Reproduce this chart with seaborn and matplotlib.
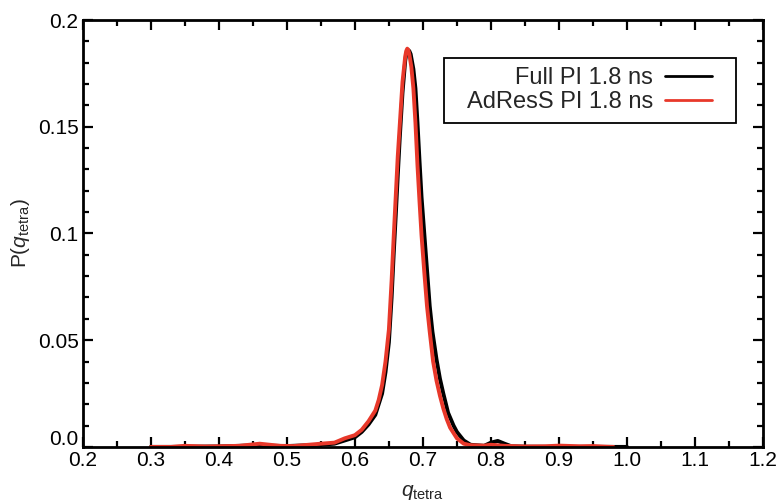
import numpy as np
import pandas as pd
import matplotlib
matplotlib.use("Agg")
import matplotlib.pyplot as plt
import matplotlib.transforms as mtransforms
from matplotlib.ticker import MultipleLocator, FixedLocator
import seaborn as sns

# ---- data ----
full_x = [0.30, 0.33, 0.36, 0.40, 0.45, 0.50, 0.55, 0.57, 0.585, 0.60, 0.61, 0.62,
          0.63, 0.64, 0.645, 0.65, 0.654, 0.657, 0.660, 0.663, 0.666, 0.670, 0.674,
          0.676, 0.678, 0.680, 0.682, 0.686, 0.689, 0.692, 0.695, 0.698, 0.702, 0.706,
          0.710, 0.714, 0.72, 0.725, 0.73, 0.737, 0.745, 0.75, 0.76, 0.77, 0.79, 0.80,
          0.81, 0.82, 0.83, 0.85, 0.90, 1.0]
full_y = [0.0, 0.0, 0.0001, 0.0002, 0.0007, 0.0004, 0.001, 0.0015, 0.003, 0.0045, 0.007, 0.0105,
          0.015, 0.025, 0.035, 0.049, 0.070, 0.090, 0.108, 0.127, 0.145, 0.166, 0.181,
          0.1848, 0.186, 0.1855, 0.184, 0.177, 0.168, 0.152, 0.134, 0.117, 0.100, 0.083,
          0.066, 0.054, 0.041, 0.032, 0.025, 0.016, 0.010, 0.007, 0.003, 0.001, 0.0005, 0.002,
          0.0028, 0.0015, 0.0003, 0.0001, 0.0, 0.0]

adress_x = [0.30, 0.33, 0.35, 0.38, 0.40, 0.43, 0.46, 0.49, 0.51, 0.55, 0.57, 0.585,
            0.60, 0.61, 0.62, 0.63, 0.635, 0.64, 0.645, 0.65, 0.654, 0.657, 0.660, 0.663, 0.666,
            0.670, 0.674, 0.6755, 0.677, 0.6785, 0.680, 0.683, 0.686, 0.689, 0.692, 0.695,
            0.698, 0.702, 0.706, 0.71, 0.715, 0.72, 0.725, 0.73, 0.735, 0.74, 0.75, 0.76,
            0.77, 0.79, 0.80, 0.82, 0.85, 0.88, 0.90, 0.93, 0.95, 0.97, 0.98]
adress_y = [0.0, 0.0, 0.0005, 0.0002, 0.0003, 0.0005, 0.0015, 0.0005, 0.0004, 0.0015, 0.002, 0.004,
            0.0055, 0.008, 0.012, 0.017, 0.022, 0.029, 0.040, 0.055, 0.078, 0.098, 0.117, 0.136, 0.151,
            0.171, 0.183, 0.1855, 0.1866, 0.186, 0.184, 0.178, 0.168, 0.152, 0.132, 0.115,
            0.099, 0.082, 0.066, 0.054, 0.040, 0.031, 0.024, 0.018, 0.013, 0.009, 0.004, 0.0015,
            0.0008, 0.0006, 0.001, 0.0005, 0.0002, 0.0003, 0.0006, 0.0003, 0.0004, 0.0001, 0.0]

labels = ["Full PI 1.8 ns", "AdResS PI 1.8 ns"]
colors = ["#000000", "#e8382a"]
x_ticks = [0.2, 0.3, 0.4, 0.5, 0.6, 0.7, 0.8, 0.9, 1.0, 1.1, 1.2]
x_ticklabels = ["0.2", "0.3", "0.4", "0.5", "0.6", "0.7", "0.8", "0.9", "1.0", "1.1", "1.2"]
y_ticks = [0.0, 0.05, 0.1, 0.15, 0.2]
y_ticklabels = ["0.0", "0.05", "0.1", "0.15", "0.2"]

df = pd.concat([
    pd.DataFrame({"q": full_x, "P": full_y, "series": labels[0]}),
    pd.DataFrame({"q": adress_x, "P": adress_y, "series": labels[1]}),
], ignore_index=True)

sns.set_style("ticks")
plt.rcParams["font.family"] = ["Liberation Sans", "DejaVu Sans"]
plt.rcParams["mathtext.fontset"] = "custom"
plt.rcParams["mathtext.rm"] = "Liberation Sans"
plt.rcParams["mathtext.it"] = "Liberation Sans:italic"

fig = plt.figure(figsize=(7.81, 5.01), dpi=100)
ax = fig.add_axes([0.106, 0.108, 0.871, 0.852])

sns.lineplot(data=df, x="q", y="P", hue="series", hue_order=labels,
             palette=colors, linewidth=2.8, ax=ax, estimator=None, sort=True)

ax.set_xlim(0.2, 1.2)
ax.set_ylim(0.0, 0.2)
ax.xaxis.set_major_locator(FixedLocator(x_ticks))
ax.set_xticklabels(x_ticklabels)
ax.yaxis.set_major_locator(FixedLocator(y_ticks))
ax.set_yticklabels(y_ticklabels)
ax.xaxis.set_minor_locator(MultipleLocator(0.05))
ax.yaxis.set_minor_locator(MultipleLocator(0.01))
ax.tick_params(which="both", direction="in", top=True, right=True,
               labelsize=15, width=1.6, colors="black")
ax.tick_params(which="major", length=7, pad=3)
ax.tick_params(which="minor", length=4)
for s in ax.spines.values():
    s.set_linewidth(2.0)
    s.set_color("black")

# lift the "0.0" label a little, as in the reference
lab0 = ax.get_yticklabels()[0]
lab0.set_transform(lab0.get_transform() +
                   mtransforms.ScaledTranslation(0, 9 / 100, fig.dpi_scale_trans))

ax.set_xlabel(r"$q_{\mathrm{tetra}}$", fontsize=15, labelpad=9)
ax.set_ylabel(r"P($q_{\mathrm{tetra}}$)", fontsize=15, labelpad=4)

leg = ax.legend(loc="upper right", bbox_to_anchor=(0.9394, 0.911), markerfirst=False,
                fontsize=17, frameon=True, fancybox=False, edgecolor="black",
                framealpha=1, handlelength=2.0, borderpad=0.4, labelspacing=0.08,
                handletextpad=0.5, borderaxespad=0)
frame = leg.get_frame()
frame.set_linewidth(1.3)
# extra horizontal padding only (as in the reference's wide legend box)
frame.set_boxstyle("square", pad=0.59)
frame.set_mutation_aspect(0.001)
for h in leg.get_lines():
    h.set_linewidth(2.0)

fig.savefig("out.png", dpi=100)
